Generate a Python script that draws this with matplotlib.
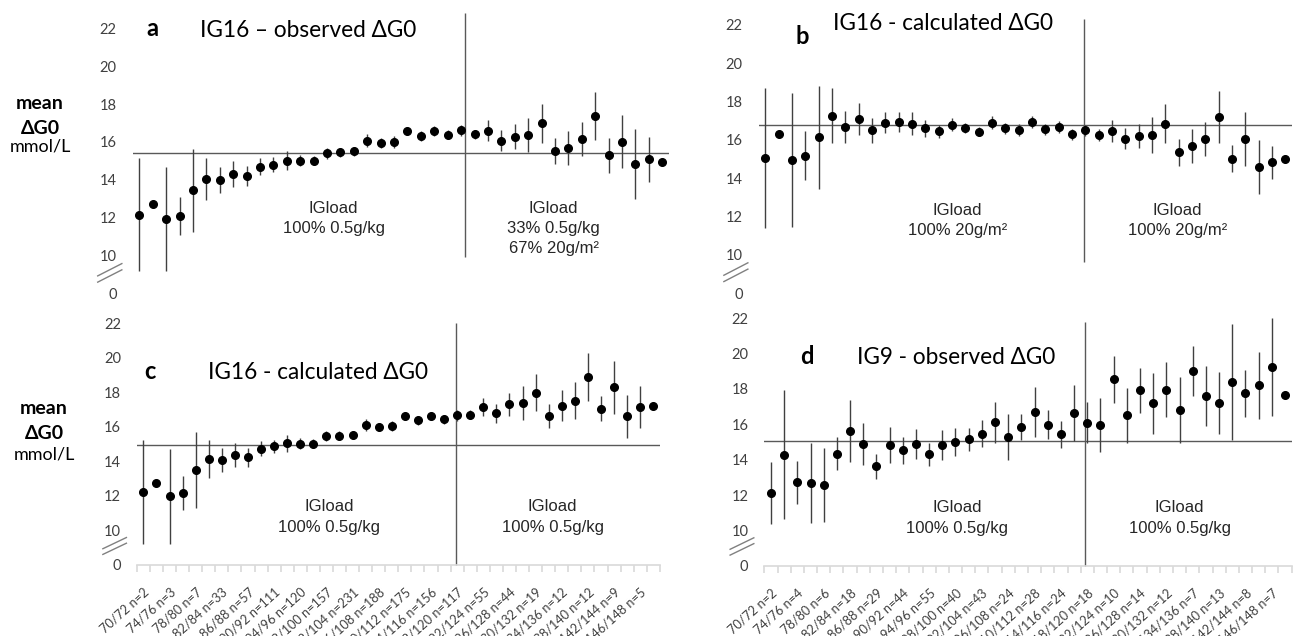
"""
Mean delta-G0 by glucose band, four panels (a-d) with error bars.
"""
import numpy as np
import matplotlib
matplotlib.use("Agg")
import matplotlib.pyplot as plt
import matplotlib.transforms as mtransforms

OUTPUT = "out.png"
FONT   = ["Lato", "DejaVu Sans"]
ARIAL  = ["Liberation Sans", "DejaVu Sans"]
INK    = "#404040"
LINE   = "#595959"
AXIS   = "#d9d9d9"

# 40 glucose bands (70/72 ... 148/150), every second one labelled
labels_c = ["70/72 n=2", "74/76 n=3", "78/80 n=7", "82/84 n=33", "86/88 n=57",
            "90/92 n=111", "94/96 n=120", "98/100 n=157", "102/104 n=231",
            "106/108 n=188", "110/112 n=175", "114/116 n=156", "118/120 n=117",
            "122/124 n=55", "126/128 n=44", "130/132 n=19", "134/136 n=12",
            "138/140 n=12", "142/144 n=9", "146/148 n=5"]
labels_d = ["70/72 n=2", "74/76 n=4", "78/80 n=6", "82/84 n=18", "86/88 n=29",
            "90/92 n=44", "94/96 n=55", "98/100 n=40", "102/104 n=43",
            "106/108 n=24", "110/112 n=28", "114/116 n=24", "118/120 n=18",
            "122/124 n=10", "126/128 n=14", "130/132 n=12", "134/136 n=7",
            "138/140 n=13", "142/144 n=8", "146/148 n=7"]

# a: IG16 observed
mean_a = [12.17, 12.72, 11.94, 12.10, 13.44, 14.06, 13.99, 14.32, 14.20, 14.69,
          14.80, 15.01, 15.01, 15.01, 15.40, 15.45, 15.50, 16.07, 15.95, 16.00,
          16.56, 16.32, 16.58, 16.39, 16.62, 16.40, 16.60, 16.07, 16.28, 16.37,
          16.99, 15.52, 15.66, 16.16, 17.37, 15.29, 16.02, 14.82, 15.08, 14.96]
err_a  = [3.0, 0, 2.75, 1.0, 2.2, 1.1, 0.7, 0.7, 0.55, 0.45,
          0.4, 0.5, 0.3, 0.25, 0.3, 0.25, 0.25, 0.33, 0.25, 0.3,
          0.2, 0.25, 0.25, 0.25, 0.3, 0.25, 0.55, 0.56, 0.67, 0.9,
          1.04, 0.7, 0.9, 0.9, 1.27, 0.93, 1.38, 1.85, 1.2, 0]
ref_a  = 15.42

# b: IG16 calculated (20 g/m2)
mean_b = [15.07, 16.29, 14.97, 15.16, 16.13, 17.27, 16.66, 17.09, 16.50, 16.90,
          16.93, 16.85, 16.60, 16.45, 16.80, 16.62, 16.43, 16.90, 16.60, 16.52,
          16.92, 16.55, 16.66, 16.29, 16.50, 16.26, 16.46, 16.07, 16.19, 16.27,
          16.85, 15.35, 15.68, 16.03, 17.18, 15.02, 16.05, 14.59, 14.83, 15.00]
err_b  = [3.65, 0, 3.5, 1.28, 2.7, 1.42, 0.85, 0.86, 0.66, 0.54,
          0.5, 0.58, 0.43, 0.33, 0.33, 0.25, 0.25, 0.35, 0.3, 0.3,
          0.3, 0.3, 0.3, 0.3, 0.3, 0.3, 0.57, 0.57, 0.63, 0.94,
          1.04, 0.7, 0.91, 0.88, 1.36, 0.72, 1.39, 1.4, 0.86, 0]
ref_b  = 16.75

# c: IG16 calculated (0.5 g/kg)
mean_c = [12.22, 12.74, 11.97, 12.15, 13.47, 14.12, 14.05, 14.37, 14.24, 14.74,
          14.86, 15.04, 15.03, 15.03, 15.45, 15.49, 15.53, 16.11, 15.98, 16.03,
          16.60, 16.37, 16.63, 16.43, 16.66, 16.70, 17.15, 16.78, 17.30, 17.36,
          17.98, 16.61, 17.21, 17.52, 18.91, 17.05, 18.29, 16.61, 17.15, 17.21]
err_c  = [3.0, 0, 2.75, 1.0, 2.2, 1.1, 0.7, 0.7, 0.55, 0.45,
          0.4, 0.5, 0.3, 0.25, 0.3, 0.25, 0.25, 0.33, 0.25, 0.3,
          0.2, 0.25, 0.25, 0.25, 0.3, 0.25, 0.53, 0.56, 0.66, 0.99,
          1.09, 0.69, 0.9, 1.06, 1.39, 0.71, 1.53, 1.24, 1.24, 0]
ref_c  = 14.97

# d: IG9 observed
mean_d = [12.11, 14.28, 12.73, 12.68, 12.56, 14.34, 15.62, 14.89, 13.62, 14.83,
          14.53, 14.87, 14.30, 14.83, 15.00, 15.15, 15.47, 16.11, 15.28, 15.87,
          16.70, 15.98, 15.43, 16.66, 16.09, 15.96, 18.56, 16.51, 17.92, 17.19,
          17.96, 16.83, 19.02, 17.60, 17.20, 18.38, 17.75, 18.21, 19.24, 17.68]
err_d  = [1.75, 3.65, 1.22, 2.24, 2.1, 0.94, 1.75, 1.2, 0.7, 1.04,
          0.75, 0.85, 0.64, 0.85, 0.78, 0.67, 0.78, 1.15, 1.3, 0.74,
          1.43, 0.83, 0.77, 1.58, 1.16, 1.55, 1.33, 1.54, 1.29, 1.72,
          1.55, 1.87, 1.39, 1.72, 1.75, 3.28, 1.32, 1.9, 2.76, 0]
ref_d  = 15.08

y_ticks  = [8, 10, 12, 14, 16, 18, 20, 22]
y_labels = ["0", "10", "12", "14", "16", "18", "20", "22"]

PANELS = [
    dict(letter="a", title="IG16 \u2013 observed \u0394G0", mean=mean_a, err=err_a,
         ref=ref_a, rect=[0.1023, 0.5385, 0.4139, 0.4527],
         vline=(24.3, 9.95, 22.8), letter_xy=(1.0, 22.0), title_xy=(4.5, 21.9),
         left=("IGload", "100% 0.5g/kg"), left_xy=(14.5, 12.5),
         right=("IGload", "33% 0.5g/kg", "67% 20g/m\u00b2"), right_xy=(30.9, 12.5),
         step=1.05, xlabels=None),
    dict(letter="b", title="IG16 - calculated \u0394G0", mean=mean_b, err=err_b,
         ref=ref_b, rect=[0.5853, 0.5392, 0.4116, 0.4577],
         vline=(23.9, 9.64, 22.3), letter_xy=(2.75, 21.4), title_xy=(5.1, 22.1),
         left=("IGload", "100% 20g/m\u00b2"), left_xy=(14.4, 12.3),
         right=("IGload", "100% 20g/m\u00b2"), right_xy=(30.9, 12.3),
         step=1.05, xlabels=None),
    dict(letter="c", title="IG16 - calculated \u0394G0", mean=mean_c, err=err_c,
         ref=ref_c, rect=[0.1056, 0.1120, 0.4035, 0.4122],
         vline=(23.9, 8, 22.0), letter_xy=(0.5, 19.2), title_xy=(4.95, 19.15),
         left=("IGload", "100% 0.5g/kg"), left_xy=(14.2, 11.37),
         right=("IGload", "100% 0.5g/kg"), right_xy=(31.3, 11.37),
         step=1.22, xlabels=labels_c),
    dict(letter="d", title="IG9 - observed \u0394G0", mean=mean_d, err=err_d,
         ref=ref_d, rect=[0.5898, 0.1105, 0.4068, 0.4224],
         vline=(23.8, 8, 21.8), letter_xy=(2.7, 19.85), title_xy=(6.5, 19.8),
         left=("IGload", "100% 0.5g/kg"), left_xy=(14.1, 11.3),
         right=("IGload", "100% 0.5g/kg"), right_xy=(31.0, 11.3),
         step=1.2, xlabels=labels_d),
]


def draw_panel(fig, p):
    ax = fig.add_axes(p["rect"])
    x = np.arange(len(p["mean"]))
    ax.errorbar(x, p["mean"], yerr=p["err"], fmt="o", color="black",
                ecolor=INK, elinewidth=1.0, markersize=5.5, capsize=0, zorder=4)
    ax.axhline(p["ref"], color=LINE, linewidth=1.0, zorder=2)
    vx, v0, v1 = p["vline"]
    ax.vlines(vx, v0, v1, color=LINE, linewidth=1.0, zorder=2, clip_on=False)

    ax.set_xlim(-0.5, len(x) - 0.5)
    ax.set_ylim(8, 23.2)
    ax.set_yticks(y_ticks)
    ax.set_yticklabels(y_labels, family=FONT, fontsize=10.5, color=INK)
    ax.tick_params(axis="y", length=0, pad=11.5)
    for side in ("left", "right", "top"):
        ax.spines[side].set_visible(False)

    if p["xlabels"] is None:
        ax.spines["bottom"].set_visible(False)
        ax.set_xticks([])
    else:
        ax.spines["bottom"].set_color(AXIS)
        ax.spines["bottom"].set_linewidth(1.2)
        ax.set_xticks(x[::2])
        ax.set_xticklabels(p["xlabels"], rotation=42, ha="right", va="top",
                           rotation_mode="anchor", family=FONT,
                           fontsize=9.2, color=INK)
        ax.set_xticks(np.arange(-0.5, len(x), 1), minor=True)
        ax.tick_params(axis="x", which="major", length=0, pad=15)
        ax.tick_params(axis="x", which="minor", length=5, color=AXIS, width=1.2)

    # axis break marks
    tr = mtransforms.blended_transform_factory(ax.transAxes, ax.transData)
    for off in (0.0, 0.33):
        ax.plot([-0.065, -0.02], [8.6 + off, 9.25 + off], color="#808080",
                linewidth=1.0, transform=tr, clip_on=False)

    lx, ly = p["letter_xy"]
    ax.text(lx, ly, p["letter"], family=FONT, fontsize=17, fontweight="bold",
            ha="center", va="center", color="black")
    tx, ty = p["title_xy"]
    ax.text(tx, ty, p["title"], family=FONT, fontsize=16.3, ha="left",
            va="center", color="black")

    for lines, (cx, cy) in ((p["left"], p["left_xy"]), (p["right"], p["right_xy"])):
        for i, s in enumerate(lines):
            ax.text(cx, cy - i * p["step"], s, family=ARIAL, fontsize=12,
                    ha="center", va="center", color="#262626")
    return ax


def draw():
    fig = plt.figure(figsize=(12.96, 6.36), dpi=100)
    fig.patch.set_facecolor("white")
    for p in PANELS:
        draw_panel(fig, p)

    for cx, ys in ((0.031, (0.8365, 0.7987, 0.7689)), (0.034, (0.357, 0.319, 0.285))):
        fig.text(cx, ys[0], "mean", family=FONT, fontsize=14, fontweight="bold",
                 ha="center", va="center")
        fig.text(cx, ys[1], "\u0394G0", family=FONT, fontsize=14, fontweight="bold",
                 ha="center", va="center")
        fig.text(cx, ys[2], "mmol/L", family=FONT, fontsize=13,
                 ha="center", va="center")

    fig.savefig(OUTPUT, dpi=100, facecolor="white")
    plt.close(fig)


if __name__ == "__main__":
    draw()
